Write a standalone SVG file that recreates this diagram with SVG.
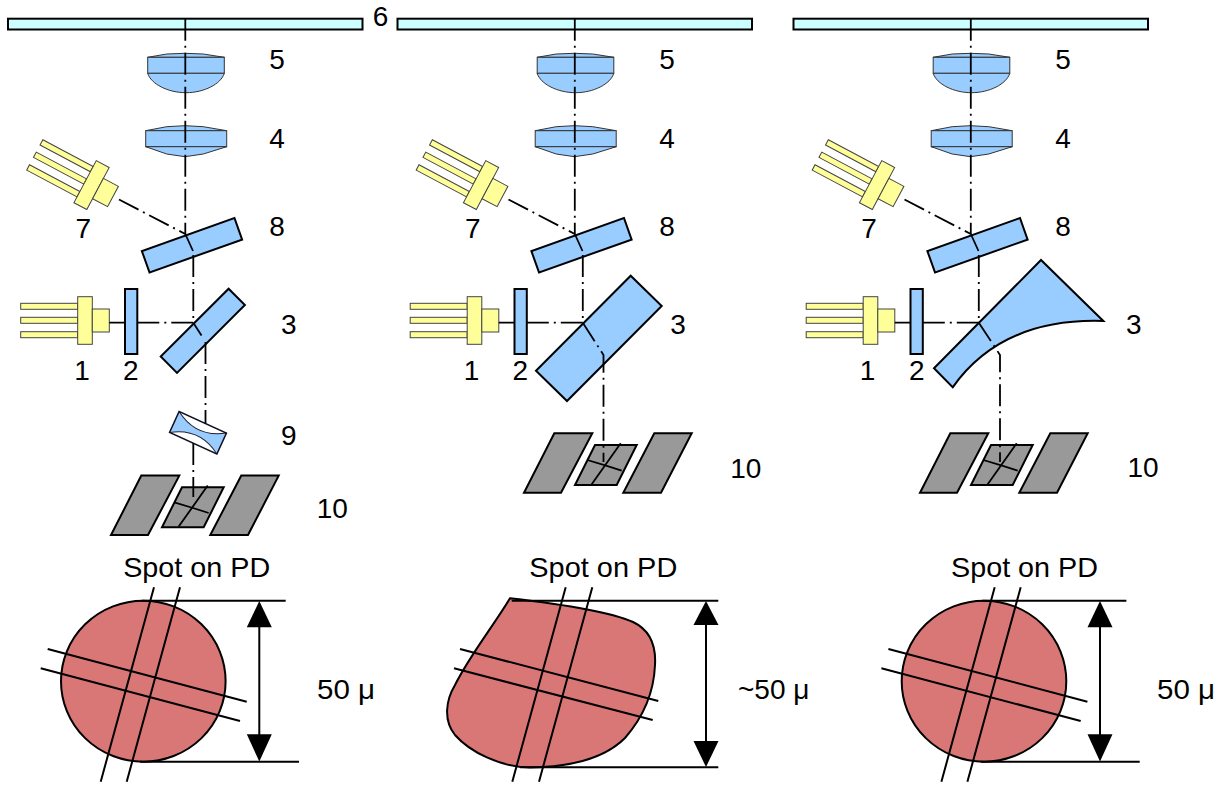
<svg xmlns="http://www.w3.org/2000/svg" xmlns:xlink="http://www.w3.org/1999/xlink" width="1227" height="785" viewBox="0 0 1227 785">
<style>
  .plate{fill:#ccffff;stroke:#000;stroke-width:2}
  .lens{fill:#99ccff;stroke:#333;stroke-width:1}
  .optic{fill:#99ccff;stroke:#000;stroke-width:2;stroke-linejoin:miter}
  .ld{fill:#ffff99;stroke:#444;stroke-width:1}
  .pd{fill:#999999;stroke:#000;stroke-width:2}
  .pdl{fill:none;stroke:#000;stroke-width:1.8}
  .beam{fill:none;stroke:#000;stroke-width:1.8;stroke-dasharray:22 5 2 5}
  .ray{fill:none;stroke:#000;stroke-width:1.8}
  .spot{fill:#d97777;stroke:#000;stroke-width:2}
  .hair{fill:none;stroke:#000;stroke-width:2}
  .head{fill:#000}
  text{font-family:"Liberation Sans",Arial,sans-serif;font-size:28px;fill:#000;text-anchor:middle}
  .lt{text-anchor:start}
</style>
<defs>
  <!-- laser diode package, emitting along +x from the origin -->
  <g id="ldiode">
    <rect class="ld" x="-88.6" y="-17.2" width="57" height="6"/>
    <rect class="ld" x="-88.6" y="-3.2" width="57" height="6"/>
    <rect class="ld" x="-88.6" y="11.2" width="57" height="6"/>
    <rect class="ld" x="-31.6" y="-23.8" width="14.6" height="47.6"/>
    <rect class="ld" x="-17" y="-11.5" width="17" height="23"/>
  </g>
  <g id="lens5">
    <path class="lens" d="M147.7,57.3 L166.7,54 L185,53.3 L203.3,54 L224.3,57.3 Z"/>
    <rect class="lens" x="147.7" y="57.3" width="76.6" height="16"/>
    <path class="lens" d="M147.7,73.3 C151,84 168,92.7 186,92.7 C204,92.7 221,84 224.3,73.3 Z"/>
  </g>
  <g id="lens4">
    <path class="lens" d="M145.7,130.7 L166.7,126.7 L185,125.7 L203.3,126.7 L226.7,130.7 Z"/>
    <rect class="lens" x="145.7" y="130.7" width="81" height="16"/>
    <path class="lens" d="M145.7,146.7 L166.7,154 L185,156.7 L203.3,154 L226.7,146.7 Z"/>
  </g>
  <rect id="mirror8" class="optic" x="-49.15" y="-11.4" width="98.3" height="22.8" transform="translate(192,245.3) rotate(-19.6)"/>
  <rect id="plate2" class="optic" x="125" y="289" width="12.3" height="65"/>
  <!-- quadrant photodiode with side detectors; origin at the beam entry -->
  <g id="qpd">
    <polygon class="pd" points="-49.7,-11.7 -11.7,-11.7 -43,47.7 -80,47.7"/>
    <polygon class="pd" points="50.3,-11.7 87.7,-11.7 57,47.7 19.3,47.7"/>
    <polygon class="pd" points="-9,0 32.7,0 12.7,40 -29,40"/>
    <path class="pdl" d="M16.7,-1.7 L-12.3,39.3 M-16.7,15 L2,20.7 L17.7,25.7"/>
  </g>
  <!-- round spot with photodiode gaps and size marker -->
  <g id="roundspot">
    <ellipse class="spot" cx="143.3" cy="681.2" rx="82.3" ry="80.5"/>
    <path class="hair" d="M154,587.3 L100.7,781.7 M180,587.3 L126.7,781.7 M47.7,649 L246.7,701.7 M40.7,668.3 L240,721"/>
    <path class="hair" d="M141.7,600.7 H285.7 M140,761.7 H299 M259.3,620 V742"/>
    <polygon class="head" points="259.3,601 246.8,627.3 271.8,627.3"/>
    <polygon class="head" points="259.3,761.5 246.8,734.3 271.8,734.3"/>
  </g>
</defs>

<!-- ===== left set-up ===== -->
<g id="p1-plate6"><rect class="plate" x="8" y="18.7" width="354.5" height="10.8"/><text x="380.5" y="26">6</text></g>
<g id="p1-lens5"><use xlink:href="#lens5"/><text x="277" y="69">5</text></g>
<g id="p1-lens4"><use xlink:href="#lens4"/><text x="277" y="148">4</text></g>
<g id="p1-ld7"><use xlink:href="#ldiode" transform="translate(113,196.5) rotate(28)"/><text x="83.3" y="238">7</text></g>
<g id="p1-mirror8"><use xlink:href="#mirror8"/><text x="277" y="236">8</text></g>
<g id="p1-ld1"><use xlink:href="#ldiode" transform="translate(109.3,320.5)"/><text x="82" y="380">1</text></g>
<g id="p1-plate2"><use xlink:href="#plate2"/><text x="130.7" y="380">2</text></g>
<g id="p1-prism3"><rect class="optic" x="-48" y="-11.5" width="96" height="23" transform="translate(202.8,330.8) rotate(-45)"/><text x="288.7" y="334">3</text></g>
<g id="p1-lens9">
  <g transform="translate(198,432.8) rotate(24.5)">
    <rect x="-26" y="-11.5" width="52" height="23" fill="#fff"/>
    <path fill="#99ccff" d="M-26,-11.5 Q0,5.5 26,-11.5 L26,11.5 Q0,-5.5 -26,11.5 Z"/>
    <path fill="none" stroke="#223" stroke-width="1" d="M-26,-11.5 Q0,5.5 26,-11.5 M26,11.5 Q0,-5.5 -26,11.5"/>
    <rect x="-26" y="-11.5" width="52" height="23" fill="none" stroke="#112" stroke-width="1.5"/>
  </g>
  <text x="288.7" y="445">9</text>
</g>
<g id="p1-pd10"><use xlink:href="#qpd" transform="translate(191,487.3)"/><text x="332.3" y="518">10</text></g>

<!-- ===== middle set-up ===== -->
<g id="p2-plate6"><rect class="plate" x="397.5" y="18.7" width="354.5" height="10.8"/></g>
<g id="p2-lens5"><use xlink:href="#lens5" transform="translate(389.5,0)"/><text x="667" y="69">5</text></g>
<g id="p2-lens4"><use xlink:href="#lens4" transform="translate(389.5,0)"/><text x="667" y="148">4</text></g>
<g id="p2-ld7"><use xlink:href="#ldiode" transform="translate(502.5,196.5) rotate(28)"/><text x="472.8" y="238">7</text></g>
<g id="p2-mirror8"><use xlink:href="#mirror8" transform="translate(389.5,0)"/><text x="667" y="236">8</text></g>
<g id="p2-ld1"><use xlink:href="#ldiode" transform="translate(498.8,320.5)"/><text x="471.5" y="380">1</text></g>
<g id="p2-plate2"><use xlink:href="#plate2" transform="translate(389.5,0)"/><text x="520.2" y="380">2</text></g>
<g id="p2-prism3"><polygon class="optic" points="536,370.7 630.7,275.7 661.7,306 567,401"/><text x="678" y="334">3</text></g>
<g id="p2-pd10"><use xlink:href="#qpd" transform="translate(604,445)"/><text x="745.8" y="478">10</text></g>

<!-- ===== right set-up ===== -->
<g id="p3-plate6"><rect class="plate" x="793.5" y="18.7" width="354.5" height="10.8"/></g>
<g id="p3-lens5"><use xlink:href="#lens5" transform="translate(785.5,0)"/><text x="1063" y="69">5</text></g>
<g id="p3-lens4"><use xlink:href="#lens4" transform="translate(785.5,0)"/><text x="1063" y="148">4</text></g>
<g id="p3-ld7"><use xlink:href="#ldiode" transform="translate(898.5,196.5) rotate(28)"/><text x="869" y="238">7</text></g>
<g id="p3-mirror8"><use xlink:href="#mirror8" transform="translate(785.5,0)"/><text x="1063" y="236">8</text></g>
<g id="p3-ld1"><use xlink:href="#ldiode" transform="translate(894.8,320.5)"/><text x="867.5" y="380">1</text></g>
<g id="p3-plate2"><use xlink:href="#plate2" transform="translate(785.5,0)"/><text x="916.7" y="380">2</text></g>
<g id="p3-prism3"><path class="optic" d="M934,368.3 L1041,260 L1103.3,321 Q1002,317.8 952.7,387.3 Z"/><text x="1133.7" y="334">3</text></g>
<g id="p3-pd10"><use xlink:href="#qpd" transform="translate(1000,445)"/><text x="1143" y="477">10</text></g>

<!-- ===== spots on the photodiode ===== -->
<g id="p1-spot">
  <use xlink:href="#roundspot"/>
  <text x="196.7" y="576.5" textLength="147" lengthAdjust="spacingAndGlyphs">Spot on PD</text>
  <text class="lt" x="317" y="699" textLength="58" lengthAdjust="spacingAndGlyphs">50 μ</text>
</g>
<g id="p2-spot">
  <path class="spot" d="M510,598.3 C560,604 610,612 633,622 C652,631 656,648 655,665 C654,690 645,715 625,738 C605,758 570,767 530,767.5 C500,767 470,752 455,735 C443,720 446,700 455,685 C470,655 492,628 510,598.3 Z"/>
  <path class="hair" d="M565.7,587.3 L512.3,781.7 M592.3,587.3 L539,781.7 M460,649 L658.3,701 M454,668.3 L652.7,720"/>
  <path class="hair" d="M511.7,600.7 H718.3 M520,767.3 H718.3 M706,620 V748"/>
  <polygon class="head" points="706,601 693.5,625 718.5,625"/>
  <polygon class="head" points="706,767 693.5,741 718.5,741"/>
  <text x="603.3" y="576.5" textLength="148" lengthAdjust="spacingAndGlyphs">Spot on PD</text>
  <text class="lt" x="738" y="699">~50 μ</text>
</g>
<g id="p3-spot">
  <use xlink:href="#roundspot" transform="translate(840.7,0)"/>
  <text x="1024.5" y="576.5" textLength="147" lengthAdjust="spacingAndGlyphs">Spot on PD</text>
  <text class="lt" x="1157" y="699" textLength="58" lengthAdjust="spacingAndGlyphs">50 μ</text>
</g>

<!-- ===== beam paths ===== -->
<g id="beams">
  <!-- left -->
  <path class="beam" d="M185.3,18.7 V234"/>
  <path class="ray" d="M185.3,234 L193,251"/>
  <path class="beam" d="M193.3,255 V322.7"/>
  <path class="beam" d="M119,199.5 L185.3,234"/>
  <path class="beam" d="M109.3,322.7 H125 M137.3,322.7 H193.3"/>
  <path class="ray" d="M193.3,322.7 L201.5,335.5"/>
  <path class="beam" d="M205.5,342 V423.6 M193.3,443 V497"/>
  <!-- middle -->
  <path class="beam" d="M574.8,18.7 V234"/>
  <path class="ray" d="M574.8,234 L582.5,251"/>
  <path class="beam" d="M582.8,255 V322.7"/>
  <path class="beam" d="M508.5,199.5 L574.8,234"/>
  <path class="beam" d="M498.8,322.7 H514.5 M526.8,322.7 H582.8"/>
  <path class="beam" d="M582.8,322.7 L603.5,355 V462"/>
  <!-- right -->
  <path class="beam" d="M970.8,18.7 V234"/>
  <path class="ray" d="M970.8,234 L978.5,251"/>
  <path class="beam" d="M978.8,255 V322.7"/>
  <path class="beam" d="M904.5,199.5 L970.8,234"/>
  <path class="beam" d="M894.8,322.7 H910.5 M922.8,322.7 H978.8"/>
  <path class="beam" d="M978.8,322.7 L1000,355 V462"/>
</g>
</svg>
